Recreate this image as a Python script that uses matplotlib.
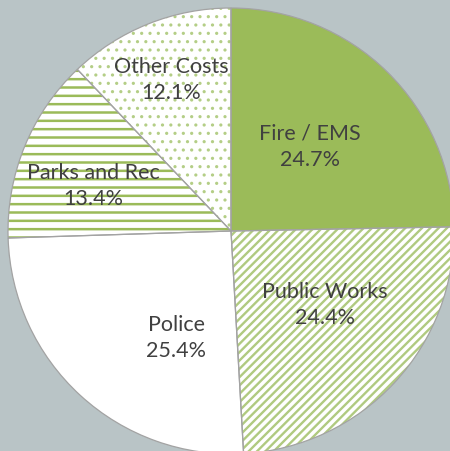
import matplotlib
matplotlib.use("Agg")
import matplotlib.pyplot as plt
import numpy as np

# data
categories = ["Fire / EMS", "Public Works", "Police", "Parks and Rec", "Other Costs"]
shares = [24.7, 24.4, 25.4, 13.4, 12.1]

# style
green = "#9bbb59"
bg = "#b9c4c6"
face_colors = [green, "white", "white", "white", "white"]
hatches = [None, "////", None, "--", ".."]
hatch_colors = [green, "#b0ca80", green, "#9bbb59", "#b4ce86"]
hatch_widths = [1.0, 1.7, 1.0, 1.8, 1.1]
# label centres in pixel coords (x, y from top)
label_px = [(310, 147), (325, 305), (176, 338), (93, 186), (171, 80)]

plt.rcParams["font.family"] = ["Lato", "DejaVu Sans"]

W, H = 450, 451
cx, cy, R = 231, 231, 223

fig = plt.figure(figsize=(W / 100, H / 100), dpi=100)
fig.patch.set_facecolor(bg)
ax = fig.add_axes([0, 0, 1, 1])
ax.set_facecolor(bg)

# hatched fills, hatch takes the edge colour
wedges, _ = ax.pie(shares, startangle=90, counterclock=False, radius=1,
                   colors=face_colors, wedgeprops=dict(linewidth=0))
for w, h, hc, hw in zip(wedges, hatches, hatch_colors, hatch_widths):
    w.set_edgecolor(hc)
    if h:
        w.set_hatch(h)
        if hasattr(w, "set_hatch_linewidth"):
            w.set_hatch_linewidth(hw)
        else:
            w._hatch_linewidth = hw

# grey outlines on top
ax.pie(shares, startangle=90, counterclock=False, radius=1,
       wedgeprops=dict(facecolor="none", linewidth=0.9, edgecolor="#a3a3a3"))

ax.set_aspect("auto")
ax.set_xlim(-cx / R, (W - cx) / R)
ax.set_ylim(-(H - cy) / R, cy / R)
ax.axis("off")

for name, val, (px, py) in zip(categories, shares, label_px):
    x = (px - cx) / R
    y = (cy - py) / R
    ax.text(x, y, f"{name}\n{val}%", ha="center", va="center", fontsize=15.5,
            color="#404040", linespacing=1.4)

fig.savefig("out.png", dpi=100, facecolor=bg)
